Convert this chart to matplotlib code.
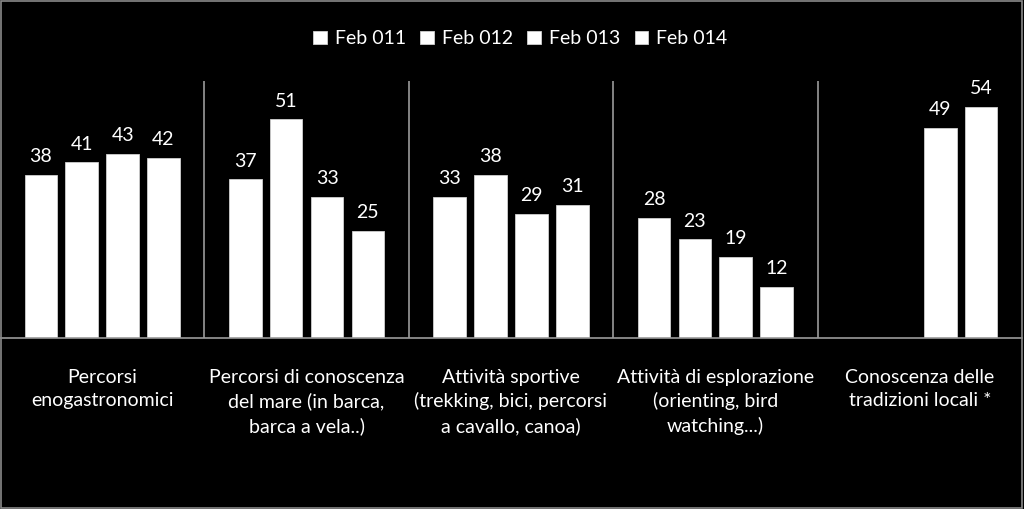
import matplotlib
matplotlib.use("Agg")
import matplotlib.pyplot as plt
from matplotlib.patches import Rectangle
import numpy as np

categories = [
    "Percorsi\nenogastronomici",
    "Percorsi di conoscenza\ndel mare (in barca,\nbarca a vela..)",
    "Attività sportive\n(trekking, bici, percorsi\na cavallo, canoa)",
    "Attività di esplorazione\n(orienting, bird\nwatching...)",
    "Conoscenza delle\ntradizioni locali *",
]
series_names = ["Feb 011", "Feb 012", "Feb 013", "Feb 014"]
feb011 = [38, 37, 33, 28, np.nan]
feb012 = [41, 51, 38, 23, np.nan]
feb013 = [43, 33, 29, 19, 49]
feb014 = [42, 25, 31, 12, 54]
series = [feb011, feb012, feb013, feb014]

plt.rcParams['font.family'] = ['Lato', 'DejaVu Sans']

fig = plt.figure(figsize=(10.24, 5.09), dpi=100, facecolor='black')
ax = fig.add_axes([0.0, 0.336, 0.998, 0.505])
ax.patch.set_visible(False)

x = np.arange(len(categories))
slot = 0.2
width = 0.16
for i, (name, vals) in enumerate(zip(series_names, series)):
    pos = x + (i - 1.5) * slot
    ax.bar(pos, vals, width, color='white', edgecolor='#d0d0d0',
           linewidth=0.6, label=name)
    for p, v in zip(pos, vals):
        if not np.isnan(v):
            ax.annotate(f"{int(v)}", (p, v), xytext=(0, 7),
                        textcoords='offset points', ha='center', va='bottom',
                        color='white', fontsize=14)

ax.set_xlim(-0.5, len(categories) - 0.5)
ax.set_ylim(0, 60)
for b in np.arange(0.5, len(categories) - 0.5, 1.0):
    ax.axvline(b, color='#9a9a9a', linewidth=1.2)

for s in ['top', 'right', 'left']:
    ax.spines[s].set_visible(False)
ax.spines['bottom'].set_color('#9a9a9a')
ax.spines['bottom'].set_linewidth(1.2)
ax.set_yticks([])
ax.set_xticks(x)
ax.set_xticklabels(categories, color='white', fontsize=14, linespacing=1.45)
ax.tick_params(axis='x', length=0, pad=22)

fig.legend(loc='upper center', bbox_to_anchor=(0.508, 0.975), ncol=4,
           frameon=False, fontsize=14, labelcolor='white',
           handlelength=0.7, handleheight=0.7, handletextpad=0.4,
           columnspacing=0.75)

fig.patches.append(Rectangle((0.0005, 0.001), 0.998, 0.997, transform=fig.transFigure,
                             fill=False, edgecolor='#8a8a8a', linewidth=1.2,
                             zorder=10))

fig.savefig('out.png', dpi=100, facecolor='black')
